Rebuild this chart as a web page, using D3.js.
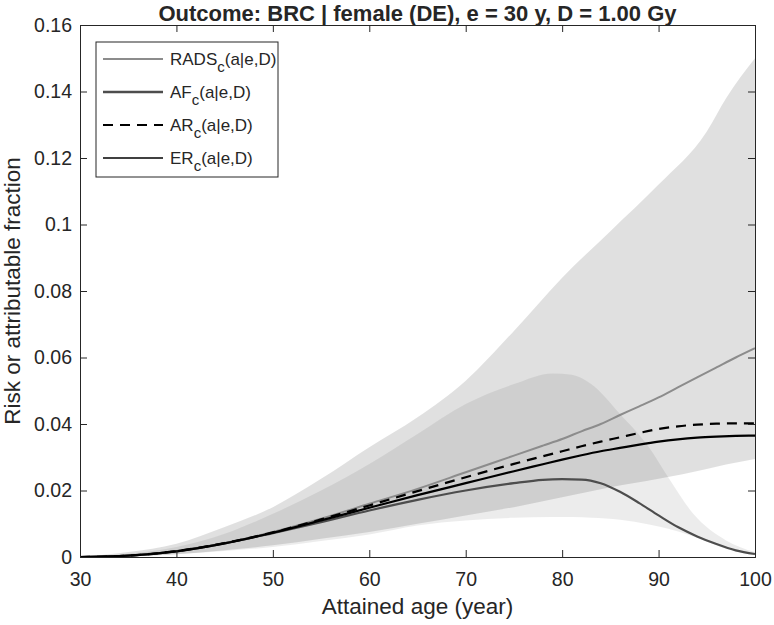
<!DOCTYPE html>
<html><head><meta charset="utf-8">
<script src="https://cdn.jsdelivr.net/npm/d3@7"></script>
<style>
body{margin:0;background:#fff;}
svg text{font-family:"Liberation Sans",Arial,Helvetica,sans-serif;fill:#262626;}
</style></head>
<body><svg id="c" width="774" height="625"></svg>
<script>
// ---- data ----
const xTicks = [30,40,50,60,70,80,90,100];
const yTicks = [0,0.02,0.04,0.06,0.08,0.1,0.12,0.14,0.16];
const yTickLabels = ["0","0.02","0.04","0.06","0.08","0.1","0.12","0.14","0.16"];

// RADS uncertainty band (upper / lower)
const radsBandAge   = [30,35,40,45,50,55,60,65,70,75,80,85,90,95,97,100];
const radsBandUpper = [0,0.0015,0.004,0.009,0.015,0.0235,0.033,0.042,0.053,0.068,0.084,0.098,0.112,0.128,0.138,0.150];
const radsBandLower = [0,0.0002,0.0008,0.002,0.0035,0.0055,0.0075,0.010,0.0125,0.015,0.018,0.021,0.0235,0.0265,0.0278,0.0295];

// AF uncertainty band (upper / lower)
const afBandAge   = [30,35,40,45,50,55,60,65,70,75,79,81,83,86,89,91,93.6,97,100];
const afBandUpper = [0,0.001,0.003,0.007,0.013,0.020,0.028,0.037,0.046,0.052,0.0552,0.0548,0.052,0.043,0.033,0.024,0.013,0.005,0.0015];
const afBandLower = [0,0.0002,0.0008,0.0018,0.003,0.0048,0.0068,0.0095,0.011,0.0118,0.012,0.012,0.0118,0.0112,0.0098,0.0085,0.0062,0.0025,0.0005];

// central curves
const lineAge = [30,35,40,45,50,55,60,65,70,75,78,80,82,84,86,88,90,92,94,96,98,100];
const radsLine = [0,0.0004,0.0018,0.0042,0.0075,0.0115,0.016,0.0205,0.0255,0.0305,0.0335,0.0355,0.0378,0.040,0.0427,0.0453,0.048,0.051,0.054,0.057,0.060,0.0628];
const afLine   = [0,0.0004,0.0017,0.0041,0.0072,0.0105,0.014,0.0172,0.0200,0.0222,0.0232,0.0234,0.0233,0.0222,0.0196,0.0162,0.0125,0.0090,0.0062,0.0039,0.0020,0.0009];
const arLine   = [0,0.0004,0.0018,0.0042,0.0074,0.0113,0.0155,0.0198,0.024,0.028,0.0303,0.0318,0.0333,0.0347,0.0360,0.0373,0.0385,0.0393,0.0398,0.0401,0.0402,0.0402];
const erLine   = [0,0.0004,0.0017,0.0041,0.0073,0.011,0.0148,0.0186,0.0222,0.0258,0.0279,0.0293,0.0306,0.0318,0.0328,0.0338,0.0347,0.0354,0.0359,0.0362,0.0364,0.0365];

const legendItems = [
  {main:"RADS", color:"#8c8c8c", width:2, dash:null},
  {main:"AF",   color:"#4d4d4d", width:2.4, dash:null},
  {main:"AR",   color:"#000000", width:2.2, dash:"10,7"},
  {main:"ER",   color:"#000000", width:1.6, dash:null}
];

// ---- layout ----
const svg = d3.select("#c");
const L=80, R=755, T=25, B=557;
const x = d3.scaleLinear().domain([30,100]).range([L,R]);
const y = d3.scaleLinear().domain([0,0.16]).range([B,T]);

const g = svg.append("g");
svg.append("clipPath").attr("id","pc").append("rect")
  .attr("x",L).attr("y",T).attr("width",R-L).attr("height",B-T);
const pg = g.append("g").attr("clip-path","url(#pc)");

function band(ages, up, lo, op){
  const data = ages.map((a,i)=>({a, u:up[i], l:lo[i]}));
  pg.append("path").datum(data)
    .attr("d", d3.area().x(d=>x(d.a)).y0(d=>y(d.l)).y1(d=>y(d.u)).curve(d3.curveMonotoneX))
    .attr("fill","#000").attr("fill-opacity",op).attr("stroke","none");
}
band(radsBandAge, radsBandUpper, radsBandLower, 0.12);
band(afBandAge, afBandUpper, afBandLower, 0.075);

function curve(vals, it, w){
  const data = lineAge.map((a,i)=>({a, v:vals[i]}));
  const p = pg.append("path").datum(data)
    .attr("d", d3.line().x(d=>x(d.a)).y(d=>y(d.v)).curve(d3.curveMonotoneX))
    .attr("fill","none").attr("stroke",it.color).attr("stroke-width",w);
  if(it.dash) p.attr("stroke-dasharray",it.dash);
}
curve(radsLine, legendItems[0], 2);
curve(afLine, legendItems[1], 2.2);
curve(arLine, legendItems[2], 2.2);
curve(erLine, legendItems[3], 2.2);

// ---- axes ----
const axCol = "#262626";
const xb = g.append("g").attr("transform",`translate(0,${B})`)
  .call(d3.axisBottom(x).tickValues(xTicks).tickSize(-7).tickPadding(15).tickFormat(d3.format("d")));
const xt = g.append("g").attr("transform",`translate(0,${T})`)
  .call(d3.axisTop(x).tickValues(xTicks).tickSize(-7).tickFormat(""));
const yl = g.append("g").attr("transform",`translate(${L},0)`)
  .call(d3.axisLeft(y).tickValues(yTicks).tickSize(-7).tickPadding(8).tickFormat((d,i)=>yTickLabels[i]));
const yr = g.append("g").attr("transform",`translate(${R},0)`)
  .call(d3.axisRight(y).tickValues(yTicks).tickSize(-7).tickFormat(""));
[xb,xt,yl,yr].forEach(a=>{
  a.select(".domain").attr("stroke",axCol).attr("stroke-width",1);
  a.selectAll(".tick line").attr("stroke",axCol).attr("stroke-width",1);
  a.selectAll(".tick text").attr("font-size",19.5).attr("fill",axCol)
    .attr("font-family","'Liberation Sans',Arial,sans-serif");
});

// ---- labels ----
g.append("text").attr("x",(L+R)/2).attr("y",21).attr("text-anchor","middle")
  .attr("font-size",22).attr("font-weight","bold")
  .text("Outcome: BRC | female (DE), e = 30 y, D = 1.00 Gy");
g.append("text").attr("x",(L+R)/2).attr("y",614).attr("text-anchor","middle")
  .attr("font-size",22.5).text("Attained age (year)");
g.append("text").attr("transform",`translate(20,${(T+B)/2}) rotate(-90)`)
  .attr("text-anchor","middle").attr("font-size",22.5).text("Risk or attributable fraction");

// ---- legend ----
const lg = g.append("g");
const lx=96, ly=42, lw=182, lh=135, rowH=33;
lg.append("rect").attr("x",lx).attr("y",ly).attr("width",lw).attr("height",lh)
  .attr("fill","#fff").attr("stroke",axCol).attr("stroke-width",1);
legendItems.forEach((it,i)=>{
  const cy = ly+17+i*rowH;
  const ln = lg.append("line").attr("x1",lx+7).attr("x2",lx+67).attr("y1",cy).attr("y2",cy)
    .attr("stroke",it.color).attr("stroke-width",it.width);
  if(it.dash) ln.attr("stroke-dasharray",it.dash);
  const t = lg.append("text").attr("x",lx+74).attr("y",cy+6).attr("font-size",17);
  t.append("tspan").text(it.main);
  t.append("tspan").attr("dy",7).attr("font-size",15).text("c");
  t.append("tspan").attr("dy",-7).text("(a|e,D)");
});
</script></body></html>
